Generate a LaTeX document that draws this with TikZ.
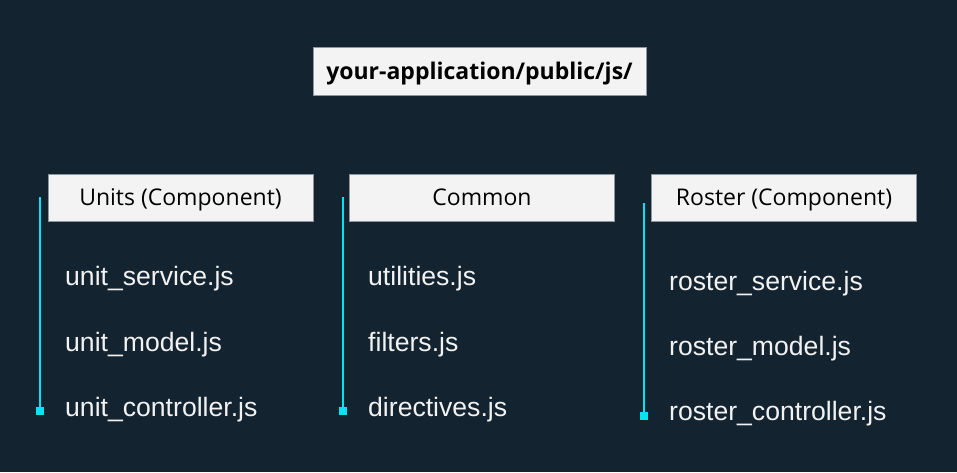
\documentclass[tikz,border=0pt]{standalone}
\usepackage{fontspec}
\setmainfont{Liberation Sans}
\newfontfamily\headfont{Open Sans}
\definecolor{bgnavy}{HTML}{132330}
\definecolor{boxgrey}{HTML}{F3F3F3}
\definecolor{boxedge}{HTML}{8C96A0}
\definecolor{treecyan}{HTML}{00E5F5}
\tikzset{
  headbox/.style={draw=boxedge, line width=0.6pt, fill=boxgrey, minimum width=265pt, minimum height=47pt, inner sep=0pt, text height=21.4pt, text depth=5pt, font=\headfont\fontsize{23}{27}\selectfont, text=black},
  filename/.style={anchor=west, inner sep=0pt, text=white!95!black, font=\fontsize{26.6}{30}\selectfont},
  treeline/.style={treecyan, line width=2pt},
  treeend/.style={fill=treecyan, minimum size=8pt, inner sep=0pt}
}
\begin{document}
\begin{tikzpicture}[x=1pt, y=-1pt]
  \fill[bgnavy] (0,0) rectangle (957,472);
  \useasboundingbox (0,0) rectangle (957,472);

  % root folder
  \node[headbox, minimum width=333pt, minimum height=48pt, font=\headfont\bfseries\fontsize{23}{27}\selectfont] (root) at (479.5,71) {your-application/public/js/};

  % units column
  \node[headbox] (units) at (180.5,197.5) {Units (Component)};
  \node[filename] (u1) at (65,279) {unit\_service.js};
  \node[filename] (u2) at (65,345) {unit\_model.js};
  \node[filename] (u3) at (65,410) {unit\_controller.js};
  \coordinate (unitsTop) at (40,197);
  \node[treeend] (unitsEnd) at (40,411) {};
  \draw[treeline] (unitsTop) -- (unitsEnd.center);

  % common column
  \node[headbox] (common) at (482,197.5) {Common};
  \node[filename] (c1) at (368,279) {utilities.js};
  \node[filename] (c2) at (368,345) {filters.js};
  \node[filename] (c3) at (368,410) {directives.js};
  \coordinate (commonTop) at (343,197);
  \node[treeend] (commonEnd) at (343,411) {};
  \draw[treeline] (commonTop) -- (commonEnd.center);

  % roster column
  \node[headbox] (roster) at (784,197.5) {Roster (Component)};
  \node[filename] (r1) at (669,284) {roster\_service.js};
  \node[filename] (r2) at (669,349) {roster\_model.js};
  \node[filename] (r3) at (669,414) {roster\_controller.js};
  \coordinate (rosterTop) at (644,203);
  \node[treeend] (rosterEnd) at (644,416) {};
  \draw[treeline] (rosterTop) -- (rosterEnd.center);
\end{tikzpicture}
\end{document}
